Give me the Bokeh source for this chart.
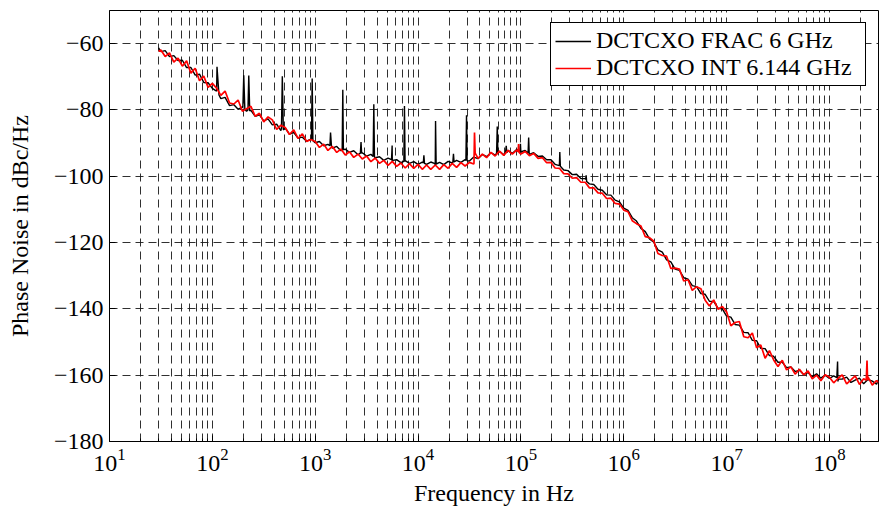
from bokeh.plotting import figure
from bokeh.models import FixedTicker, CustomJSTickFormatter, Range1d, ColumnDataSource
from bokeh.embed import file_html
from bokeh.resources import INLINE

# ---------------- data ----------------
freq = [
    30, 31.6, 34.8, 38.3, 42.2, 46.4, 51.1, 56.2, 61.9, 68.1, 75.0, 82.5, 90.9,
    100, 110, 121, 133, 147, 162, 178, 196, 215, 237, 261, 287,
    316, 348, 383, 422, 464, 511, 562, 619, 681, 750, 825, 909,
    1.00e3, 1.10e3, 1.21e3, 1.33e3, 1.47e3, 1.62e3, 1.78e3, 1.96e3, 2.15e3, 2.37e3, 2.61e3, 2.87e3,
    3.16e3, 3.48e3, 3.83e3, 4.22e3, 4.64e3, 5.11e3, 5.62e3, 6.19e3, 6.81e3, 7.50e3, 8.25e3, 9.09e3,
    1.00e4, 1.10e4, 1.21e4, 1.33e4, 1.47e4, 1.62e4, 1.78e4, 1.96e4, 2.15e4, 2.37e4, 2.61e4, 2.87e4,
    3.16e4, 3.48e4, 3.83e4, 4.22e4, 4.64e4, 5.11e4, 5.62e4, 6.19e4, 6.81e4, 7.50e4, 8.25e4, 9.09e4,
    1.00e5, 1.10e5, 1.21e5, 1.33e5, 1.47e5, 1.62e5, 1.78e5, 1.96e5, 2.15e5, 2.37e5, 2.61e5, 2.87e5,
    3.16e5, 3.48e5, 3.83e5, 4.22e5, 4.64e5, 5.11e5, 5.62e5, 6.19e5, 6.81e5, 7.50e5, 8.25e5, 9.09e5,
    1.00e6, 1.10e6, 1.21e6, 1.33e6, 1.47e6, 1.62e6, 1.78e6, 1.96e6, 2.15e6, 2.37e6, 2.61e6, 2.87e6,
    3.16e6, 3.48e6, 3.83e6, 4.22e6, 4.64e6, 5.11e6, 5.62e6, 6.19e6, 6.81e6, 7.50e6, 8.25e6, 9.09e6,
    1.00e7, 1.10e7, 1.21e7, 1.33e7, 1.47e7, 1.62e7, 1.78e7, 1.96e7, 2.15e7, 2.37e7, 2.61e7, 2.87e7,
    3.16e7, 3.48e7, 3.83e7, 4.22e7, 4.64e7, 5.11e7, 5.62e7, 6.19e7, 6.81e7, 7.50e7, 8.25e7, 9.09e7,
    1.00e8, 1.10e8, 1.21e8, 1.33e8, 1.47e8, 1.62e8, 1.78e8, 1.96e8, 2.15e8, 2.37e8, 2.61e8, 2.87e8, 3.00e8,
]

frac_noise = [
    -61.3, -62.4, -62.1, -63.9, -63.6, -65.1, -65.0, -67.2, -67.2, -69.5, -69.2, -71.7, -71.8,
    -73.5, -74.3, -76.6, -76.2, -78.7, -78.4, -79.8, -79.1, -80.4, -80.1, -81.9, -81.5,
    -83.3, -82.7, -84.5, -84.3, -86.2, -85.5, -87.3, -86.8, -88.5, -88.2, -89.4, -88.8,
    -89.9, -89.5, -90.8, -90.4, -91.5, -91.0, -92.3, -91.8, -92.8, -92.3, -93.5, -92.9,
    -93.9, -93.4, -94.4, -94.1, -95.2, -94.5, -95.5, -95.0, -95.9, -95.3, -96.1, -95.6,
    -96.4, -95.7, -96.4, -95.7, -96.6, -95.8, -96.5, -95.5, -96.0, -95.2, -95.8, -95.0,
    -95.4, -94.2, -94.7, -93.4, -94.1, -92.9, -93.6, -92.5, -93.5, -92.2, -93.1, -91.9,
    -92.9, -92.2, -93.4, -92.9, -94.0, -93.9, -95.0, -95.0, -96.4, -96.6, -98.1, -98.3,
    -99.5, -99.4, -100.7, -100.7, -102.3, -102.5, -103.9, -104.2, -105.6, -105.7, -107.2, -107.7,
    -109.6, -110.3, -112.5, -113.5, -115.7, -116.7, -118.9, -119.9, -122.2, -122.9, -125.2, -125.8,
    -128.0, -128.4, -130.6, -131.0, -133.0, -133.3, -135.4, -135.6, -137.7, -137.8, -139.8, -140.0,
    -142.2, -142.5, -144.7, -144.9, -147.1, -147.2, -149.5, -149.6, -151.9, -152.0, -154.1, -154.3,
    -156.1, -156.1, -157.7, -157.5, -158.9, -158.5, -159.8, -159.2, -160.5, -159.6, -160.9, -160.0,
    -161.0, -160.2, -161.9, -161.2, -160.6, -162.2, -161.5, -160.9, -162.6, -161.3, -161.8, -162.7, -161.4,
]

int_noise = [
    -62.3, -61.9, -63.9, -62.8, -65.6, -64.4, -66.8, -65.2, -68.9, -67.4, -71.2, -69.8, -73.2,
    -72.0, -73.4, -75.6, -74.3, -77.9, -78.2, -77.0, -80.4, -79.6, -78.9, -81.9, -81.0,
    -83.6, -82.1, -83.0, -85.9, -84.6, -85.3, -87.4, -86.0, -88.6, -87.2, -89.5, -88.9,
    -89.5, -91.3, -90.3, -92.2, -91.0, -92.8, -91.8, -93.6, -92.6, -94.3, -93.3, -94.8,
    -93.9, -95.6, -94.5, -96.1, -95.2, -96.7, -95.5, -97.0, -96.0, -97.5, -96.2, -97.6,
    -96.4, -97.9, -96.6, -97.9, -96.6, -97.9, -96.5, -97.6, -96.1, -97.3, -95.9, -96.9,
    -95.8, -96.3, -94.6, -93.3, -94.4, -92.8, -93.9, -92.4, -93.7, -92.2, -93.3, -92.1,
    -93.3, -92.5, -93.8, -93.1, -94.6, -94.4, -95.9, -95.8, -97.5, -97.6, -99.2, -99.3,
    -100.6, -100.4, -101.8, -101.8, -103.5, -103.5, -105.0, -105.1, -106.7, -106.6, -108.2, -108.4,
    -110.2, -110.7, -113.4, -114.3, -115.0, -118.2, -118.5, -119.6, -123.3, -123.9, -124.1, -127.8,
    -127.7, -128.0, -131.6, -131.2, -134.4, -133.3, -133.9, -137.4, -139.1, -137.3, -140.1, -139.3,
    -140.9, -145.1, -144.1, -143.8, -148.4, -148.7, -147.3, -151.7, -150.9, -154.9, -152.6, -155.4,
    -157.4, -155.5, -158.4, -157.5, -159.7, -158.2, -159.9, -158.7, -161.1, -160.0, -161.7, -159.9,
    -160.6, -162.3, -161.0, -159.9, -162.6, -161.4, -160.2, -162.8, -161.1, -160.5, -163.0, -161.6, -162.2,
]

# spurs of the FRAC trace (foot, peak, foot)
frac_spur_f = [106, 111, 116, 198, 202, 207, 222, 226, 231, 470, 479, 490, 920, 935, 950,
               1390, 1410, 1440, 1830, 1855, 1880, 2750, 2790, 2830, 3660, 3715, 3770,
               5520, 5600, 5680, 7280, 7380, 7480, 11250, 11400, 11550, 14600, 14800, 15000,
               21800, 22100, 22400, 29200, 29600, 30000, 58000, 58900, 59800, 71000, 72000, 73000,
               97500, 99000, 101000, 117500, 119000, 120500, 236000, 239000, 242000,
               426000, 431000, 436000, 1.18e8, 1.20e8, 1.22e8]
frac_spur_v = [-74.0, -67.0, -75.5, -79.3, -69.5, -79.8, -80.0, -69.6, -80.3, -85.5, -69.8, -86.0,
               -88.9, -70.5, -89.3, -90.8, -86.8, -91.0, -91.9, -73.9, -92.0, -93.0, -89.7, -93.1,
               -94.0, -78.3, -94.2, -95.0, -90.7, -95.2, -95.5, -78.8, -95.6, -96.0, -93.7, -96.1,
               -96.2, -83.3, -96.3, -95.8, -93.2, -95.7, -95.2, -81.6, -95.3, -93.1, -85.0, -93.2,
               -92.8, -90.8, -92.9, -92.6, -90.2, -92.6, -93.0, -88.3, -93.2, -96.8, -92.7, -97.0,
               -101.0, -99.7, -101.6, -160.7, -155.9, -161.2]

# spurs of the INT trace
int_spur_f = [35000, 35400, 35900, 94000, 95000, 96000, 2.28e8, 2.32e8, 2.35e8]
int_spur_v = [-96.0, -86.8, -93.0, -92.6, -90.3, -92.8, -161.5, -155.6, -161.5]

series_names = ["DCTCXO FRAC 6 GHz", "DCTCXO INT 6.144 GHz"]
series_colors = ["#000000", "#ff0000"]

x_major = [1e1, 1e2, 1e3, 1e4, 1e5, 1e6, 1e7, 1e8]
x_minor = [2e1, 3e1, 4e1, 5e1, 6e1, 7e1, 8e1, 9e1,
           2e2, 3e2, 4e2, 5e2, 6e2, 7e2, 8e2, 9e2,
           2e3, 3e3, 4e3, 5e3, 6e3, 7e3, 8e3, 9e3,
           2e4, 3e4, 4e4, 5e4, 6e4, 7e4, 8e4, 9e4,
           2e5, 3e5, 4e5, 5e5, 6e5, 7e5, 8e5, 9e5,
           2e6, 3e6, 4e6, 5e6, 6e6, 7e6, 8e6, 9e6,
           2e7, 3e7, 4e7, 5e7, 6e7, 7e7, 8e7, 9e7,
           2e8, 3e8]
y_major = [-180, -160, -140, -120, -100, -80, -60]


def merge(fb, vb, fs, vs):
    pts = sorted(zip(list(fb) + list(fs), list(vb) + list(vs)))
    return [a for a, _ in pts], [b for _, b in pts]


f1, v1 = merge(freq, frac_noise, frac_spur_f, frac_spur_v)
f2, v2 = merge(freq, int_noise, int_spur_f, int_spur_v)

FONT = "'Liberation Serif', serif"

p = figure(width=879, height=508, x_axis_type="log",
           x_range=Range1d(10, 3e8), y_range=Range1d(-180, -50),
           output_backend="svg", toolbar_location=None,
           min_border_left=109, min_border_right=1, min_border_top=10, min_border_bottom=62)
p.background_fill_color = "white"
p.border_fill_color = "white"
p.outline_line_color = "black"
p.outline_line_width = 1
p.outline_line_alpha = 1

xt = FixedTicker(ticks=x_major, minor_ticks=x_minor)
yt = FixedTicker(ticks=y_major, minor_ticks=[])
p.xaxis.ticker = xt
p.yaxis.ticker = yt
p.xgrid.ticker = xt
p.ygrid.ticker = yt

for g in (p.xgrid, p.ygrid):
    g.grid_line_color = "#1a1a1a"
    g.grid_line_dash = "8 5"
    g.grid_line_width = 1
    g.grid_line_alpha = 0.9
p.xgrid.minor_grid_line_color = "#1a1a1a"
p.xgrid.minor_grid_line_dash = "8 5"
p.xgrid.minor_grid_line_width = 1
p.xgrid.minor_grid_line_alpha = 0.9

p.yaxis.formatter = CustomJSTickFormatter(
    code="return (tick < 0 ? '\\u2212' : '') + Math.abs(tick).toFixed(0);")

for ax in (p.xaxis, p.yaxis):
    ax.axis_line_color = "black"
    ax.major_tick_in = 6
    ax.major_tick_out = 0
    ax.minor_tick_in = 3
    ax.minor_tick_out = 0
    ax.major_tick_line_color = "black"
    ax.minor_tick_line_color = "black"
    ax.major_label_text_font = FONT
    ax.major_label_text_font_size = "24px"
    ax.major_label_text_color = "black"
    ax.axis_label_text_font = FONT
    ax.axis_label_text_font_size = "24px"
    ax.axis_label_text_font_style = "normal"
    ax.axis_label_text_color = "black"

p.xaxis.axis_label = "Frequency in Hz"
p.yaxis.axis_label = "Phase Noise in dBc/Hz"
p.xaxis.major_label_standoff = 7
p.yaxis.major_label_standoff = 6
p.xaxis.axis_label_standoff = 6
p.yaxis.axis_label_standoff = 18

src1 = ColumnDataSource(dict(f=f1, v=v1))
src2 = ColumnDataSource(dict(f=f2, v=v2))
p.line("f", "v", source=src1, color=series_colors[0], line_width=1.4, legend_label=series_names[0])
p.line("f", "v", source=src2, color=series_colors[1], line_width=1.7, legend_label=series_names[1])

lg = p.legend[0]
lg.location = "top_right"
lg.margin = 12
lg.padding = 4
lg.spacing = 0
lg.border_line_color = "black"
lg.border_line_width = 1
lg.border_line_alpha = 1
lg.background_fill_color = "white"
lg.background_fill_alpha = 1
lg.label_text_font = FONT
lg.label_text_font_size = "24px"
lg.label_text_color = "black"
lg.glyph_width = 36
lg.glyph_height = 24
lg.label_height = 24
lg.label_width = 265
lg.label_standoff = 5

open("out.html", "w").write(file_html(p, INLINE))
